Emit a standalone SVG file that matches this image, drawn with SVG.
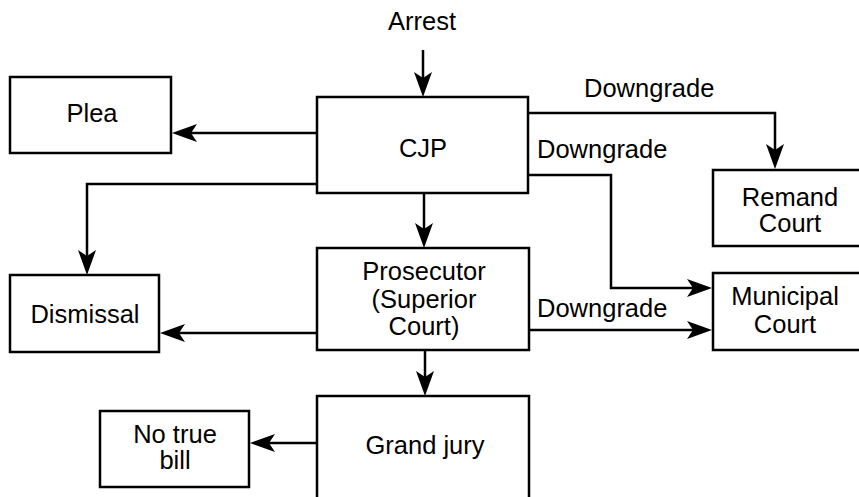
<svg xmlns="http://www.w3.org/2000/svg" width="859" height="497" viewBox="0 0 859 497">
<style>
.box{fill:#fff;stroke:#000;stroke-width:2.5}
.t{font-family:"Liberation Sans",Arial,sans-serif;font-size:25.5px;fill:#000;text-anchor:middle}
.tl{font-family:"Liberation Sans",Arial,sans-serif;font-size:25.5px;fill:#000}
.c{fill:none;stroke:#000;stroke-width:2.5}
.ah{fill:#000}
</style>
<defs>
<path id="ahd" d="M0,0 L-9,-25 L0,-19 L9,-25 z"/>
</defs>
<g id="connectors">
<path class="c" d="M423,50 V90"/>
<path class="c" d="M317,133 H180"/>
<path class="c" d="M317,184 H87 V268"/>
<path class="c" d="M424,193 V241"/>
<path class="c" d="M528,113 H775 V162"/>
<path class="c" d="M528,175 H611 V288 H705"/>
<path class="c" d="M317,333 H166"/>
<path class="c" d="M529,330 H705"/>
<path class="c" d="M425,350 V389"/>
<path class="c" d="M317,443 H256"/>
<use href="#ahd" class="ah" transform="translate(423,97)"/>
<use href="#ahd" class="ah" transform="translate(172,133) rotate(90)"/>
<use href="#ahd" class="ah" transform="translate(87,275)"/>
<use href="#ahd" class="ah" transform="translate(424,248)"/>
<use href="#ahd" class="ah" transform="translate(775,169)"/>
<use href="#ahd" class="ah" transform="translate(712,288) rotate(-90)"/>
<use href="#ahd" class="ah" transform="translate(160,333) rotate(90)"/>
<use href="#ahd" class="ah" transform="translate(712,330) rotate(-90)"/>
<use href="#ahd" class="ah" transform="translate(425,396)"/>
<use href="#ahd" class="ah" transform="translate(250,443) rotate(90)"/>
</g>
<g id="arrest"><text class="t" x="422" y="30">Arrest</text></g>
<g id="cjp"><rect class="box" x="317" y="97" width="211" height="96"/><text class="t" x="423" y="157">CJP</text></g>
<g id="plea"><rect class="box" x="10" y="77" width="161" height="76"/><text class="t" x="92" y="122">Plea</text></g>
<g id="dismissal"><rect class="box" x="10" y="275" width="149" height="77"/><text class="t" x="85" y="323">Dismissal</text></g>
<g id="prosecutor"><rect class="box" x="317" y="248" width="212" height="102"/><text class="t" x="424" y="280">Prosecutor</text><text class="t" x="424" y="308">(Superior</text><text class="t" x="424" y="335">Court)</text></g>
<g id="grandjury"><rect class="box" x="317" y="396" width="212" height="120"/><text class="t" x="425" y="454">Grand jury</text></g>
<g id="notruebill"><rect class="box" x="100" y="411" width="149" height="76"/><text class="t" x="175" y="443">No true</text><text class="t" x="175" y="469">bill</text></g>
<g id="remand"><rect class="box" x="713" y="170" width="170" height="76"/><text class="t" x="790" y="206">Remand</text><text class="t" x="790" y="232">Court</text></g>
<g id="municipal"><rect class="box" x="713" y="273" width="170" height="77"/><text class="t" x="785" y="305">Municipal</text><text class="t" x="785" y="333">Court</text></g>
<g id="labels">
<text class="tl" x="584" y="97">Downgrade</text>
<text class="tl" x="537" y="158">Downgrade</text>
<text class="tl" x="537" y="317">Downgrade</text>
</g>
</svg>
